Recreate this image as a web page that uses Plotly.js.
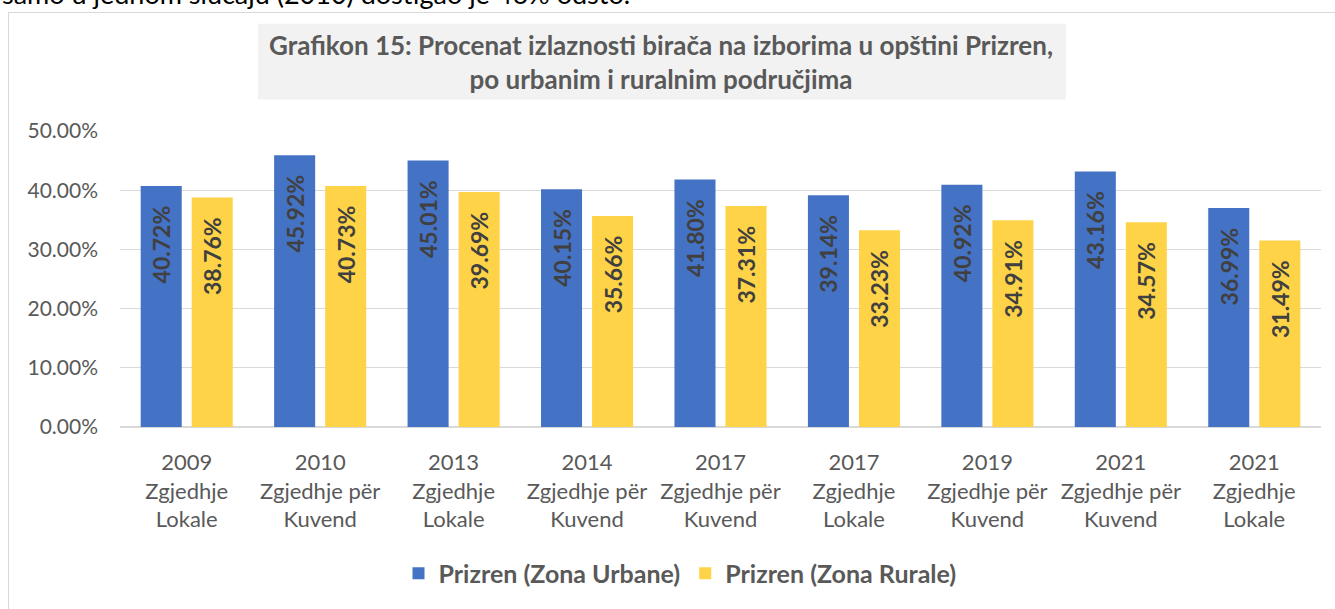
<!DOCTYPE html>
<html>
<head>
<meta charset="utf-8">
<script src="https://cdn.plot.ly/plotly-3.0.1.min.js"></script>
<style>
  html, body { margin:0; padding:0; width:1335px; height:609px; overflow:hidden; background:#fff; }
  #top { position:absolute; left:2px; top:-20px; font-family:Lato, sans-serif; font-size:27px; line-height:27px; color:#000; white-space:nowrap; }
  #chart { position:absolute; left:0; top:0; width:1335px; height:609px; }
</style>
</head>
<body>
<div id="top">samo u jednom slučaju (2010) dostigao je 46% odsto.</div>
<div id="chart"></div>
<script>
const categories = [
  "2009<br>Zgjedhje<br>Lokale",
  "2010<br>Zgjedhje për<br>Kuvend",
  "2013<br>Zgjedhje<br>Lokale",
  "2014<br>Zgjedhje për<br>Kuvend",
  "2017<br>Zgjedhje për<br>Kuvend",
  "2017<br>Zgjedhje<br>Lokale",
  "2019<br>Zgjedhje për<br>Kuvend",
  "2021<br>Zgjedhje për<br>Kuvend",
  "2021<br>Zgjedhje<br>Lokale"
];
const urbanName = "Prizren (Zona Urbane)";
const ruralName = "Prizren (Zona Rurale)";
const urbanValues = [0.4072, 0.4592, 0.4501, 0.4015, 0.4180, 0.3914, 0.4092, 0.4316, 0.3699];
const ruralValues = [0.3876, 0.4073, 0.3969, 0.3566, 0.3731, 0.3323, 0.3491, 0.3457, 0.3149];
const titleText = "Grafikon 15: Procenat izlaznosti birača na izborima u opštini Prizren,<br>po urbanim i ruralnim područjima";

// layout geometry (page pixels)
const W = 1335, H = 609;
const plotL = 120, plotR = 1321, plotT = 131, plotB = 432;
const pw = plotR - plotL, ph = plotB - plotT;
const px = v => (v - plotL) / pw;
const py = v => (plotB - v) / ph;

const FONT = "Lato, 'Open Sans', sans-serif";
const GREY = "#595959";

const labelFont = {family: FONT, size: 23, color: "#404040", weight: 700};
const labelTemplate = "%{y:.2%}\u00A0\u00A0\u00A0";

const traces = [
  {
    type: "bar", name: urbanName, x: categories, y: urbanValues,
    marker: {color: "#4472C4"},
    texttemplate: labelTemplate, textposition: "inside", insidetextanchor: "end",
    textangle: -90, textfont: labelFont, constraintext: "none", hoverinfo: "skip"
  },
  {
    type: "bar", name: ruralName, x: categories, y: ruralValues,
    marker: {color: "#FFD347"},
    texttemplate: labelTemplate, textposition: "inside", insidetextanchor: "end",
    textangle: -90, textfont: labelFont, constraintext: "none", hoverinfo: "skip"
  }
];

const layout = {
  width: W, height: H,
  margin: {l: plotL, r: W - plotR, t: plotT, b: H - plotB, pad: 0},
  paper_bgcolor: "rgba(0,0,0,0)", plot_bgcolor: "rgba(0,0,0,0)",
  barmode: "group", bargap: 0.235, bargroupgap: 0.196,
  showlegend: true,
  legend: {
    orientation: "h", xanchor: "center", yanchor: "middle",
    x: px(680), y: py(581), font: {family: FONT, size: 25, color: GREY, weight: 700},
    itemclick: false, bgcolor: "rgba(0,0,0,0)"
  },
  xaxis: {
    type: "category", tickfont: {family: FONT, size: 22, color: GREY},
    showgrid: false, showline: false, ticks: "", ticklabelstandoff: 20, automargin: false
  },
  yaxis: {
    range: [0, 0.5], dtick: 0.1, tickformat: ".2%",
    tickfont: {family: FONT, size: 21, color: GREY},
    gridcolor: "#D9D9D9", gridwidth: 1, zeroline: true, zerolinecolor: "#D9D9D9", zerolinewidth: 1.5,
    showline: false, ticks: "", ticklabelstandoff: 21, automargin: false
  },
  shapes: [
    {type: "rect", xref: "paper", yref: "paper", x0: px(258), x1: px(1066), y0: py(99), y1: py(22),
     fillcolor: "#F2F2F2", line: {width: 0}, layer: "below"},
    {type: "line", xref: "paper", yref: "paper", x0: px(8.5), x1: px(8.5), y0: py(10), y1: py(620),
     line: {color: "#D9D9D9", width: 1}},
    {type: "line", xref: "paper", yref: "paper", x0: px(8), x1: px(1340), y0: py(10.5), y1: py(10.5),
     line: {color: "#D9D9D9", width: 1}}
  ],
  annotations: [
    {xref: "paper", yref: "paper", x: px(661), y: py(61), xanchor: "center", yanchor: "middle",
     text: titleText, showarrow: false, align: "center",
     font: {family: FONT, size: 26, color: GREY, weight: 700}}
  ]
};

Plotly.newPlot("chart", traces, layout, {staticPlot: true, displayModeBar: false});
</script>
</body>
</html>
